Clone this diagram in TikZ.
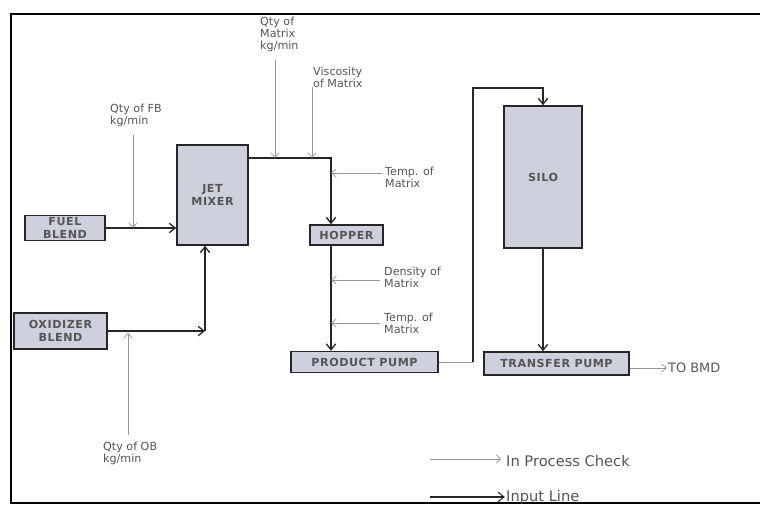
\documentclass[tikz,border=0pt]{standalone}
\usepackage{fontspec}
\setmainfont{DejaVu Sans}
\usetikzlibrary{arrows.meta}
\definecolor{boxfill}{RGB}{206,209,221}
\definecolor{checkgray}{RGB}{150,150,150}
\definecolor{textgray}{RGB}{85,85,85}

\begin{document}
\begin{tikzpicture}[x=0.03cm, y=-0.03cm,
    unitbox/.style={draw=black!85, line width=1.3pt, fill=boxfill, text=textgray,
        font=\fontsize{9.5}{11}\selectfont\bfseries\addfontfeature{LetterSpace=5}, align=center, inner sep=0pt},
    inputline/.style={draw=black!85, line width=1.1pt, -{Straight Barb[length=5pt,width=8pt]}},
    checkline/.style={draw=checkgray, line width=0.6pt, -{Straight Barb[length=4pt,width=7pt]}},
    note/.style={text=textgray, font=\fontsize{9.5}{10}\selectfont, align=left, inner sep=0pt},
    legendtext/.style={text=textgray, font=\fontsize{12.5}{14}\selectfont, inner sep=0pt}]

    % --- Page and Frame ---
    \useasboundingbox (0,0) rectangle (760,505);
    \draw[line width=1.2pt] (760,14) -- (11,14) -- (11,503) -- (760,503);

    % --- Process Units ---
    \node[unitbox, minimum width=2.4cm, minimum height=0.75cm] (fuel) at (65,228) {FUEL\\BLEND};
    \node[unitbox, minimum width=2.79cm, minimum height=1.08cm] (oxid) at (60.5,331) {OXIDIZER\\BLEND};
    \node[unitbox, minimum width=2.13cm, minimum height=3cm] (jet) at (212.5,195) {JET\\MIXER};
    \node[unitbox, minimum width=2.19cm, minimum height=0.6cm] (hopper) at (346.5,235) {HOPPER};
    \node[unitbox, minimum width=4.41cm, minimum height=0.63cm] (ppump) at (364.5,362) {PRODUCT PUMP};
    \node[unitbox, minimum width=2.34cm, minimum height=4.26cm] (silo) at (543,177) {SILO};
    \node[unitbox, minimum width=4.35cm, minimum height=0.69cm] (tpump) at (556.5,363.5) {TRANSFER PUMP};

    % --- Bends of the Input Lines ---
    \coordinate (oxbend) at (205,331);
    \coordinate (mixbend) at (331,158);
    \coordinate (ppbend) at (473,88);

    % --- Input Lines (black) ---
    \draw[inputline] (fuel.east) -- (fuel.east -| jet.west);
    \draw[inputline] (oxid.east) -- (oxbend);
    \draw[inputline] (oxbend) -- (oxbend |- jet.south);
    \draw[inputline] (jet.east |- mixbend) -- (mixbend) -- (mixbend |- hopper.north);
    \draw[inputline] (hopper.south -| mixbend) -- (ppump.north -| mixbend);
    \draw[draw=checkgray, line width=0.6pt] (ppump.east) -- (ppump.east -| ppbend);
    \draw[inputline] (ppump.east -| ppbend) -- (ppbend) -| (silo.north);
    \draw[inputline] (silo.south) -- (tpump.north -| silo.south);

    % --- In Process Checks (grey) ---
    \node[note, anchor=north west] (qtyfb) at (110,104) {Qty of FB\\kg/min};
    \coordinate (qtyfbtop) at (133,135);
    \draw[checkline] (qtyfbtop) -- (qtyfbtop |- fuel.east);

    \node[note, anchor=north west] (qtyob) at (103,442) {Qty of OB\\kg/min};
    \coordinate (qtyobbot) at (128,435);
    \draw[checkline] (qtyobbot) -- ([yshift=-1.5pt]qtyobbot |- oxid.east);

    \node[note, anchor=north west] (qtymx) at (260,17) {Qty of\\Matrix\\kg/min};
    \coordinate (qtymxtop) at (275,60);
    \draw[checkline] (qtymxtop) -- (qtymxtop |- mixbend);

    \node[note, anchor=north west] (visc) at (313,67) {Viscosity\\of Matrix};
    \coordinate (visctop) at (312,87);
    \draw[checkline] (visctop) -- (visctop |- mixbend);

    \node[note, anchor=north west] (tempa) at (385,167) {Temp. of\\Matrix};
    \coordinate (tempaend) at (382,173);
    \draw[checkline] (tempaend) -- (tempaend -| mixbend);

    \node[note, anchor=north west] (dens) at (384,267) {Density of\\Matrix};
    \coordinate (densend) at (380,280);
    \draw[checkline] (densend) -- (densend -| mixbend);

    \node[note, anchor=north west] (tempb) at (384,313) {Temp. of\\Matrix};
    \coordinate (tempbend) at (380,323);
    \draw[checkline] (tempbend) -- (tempbend -| mixbend);

    % --- Outlet to BMD ---
    \node[legendtext, font=\fontsize{11}{13}\selectfont, anchor=west] (bmd) at (668,368) {TO BMD};
    \draw[checkline, shorten >=1pt] (tpump.east |- bmd.west) -- (bmd.west);

    % --- Legend ---
    \node[legendtext, anchor=west] (legcheck) at (506,461) {In Process Check};
    \node[legendtext, anchor=west] (leginput) at (506,497) {Input Line};
    \coordinate (legchecktail) at (430,459);
    \coordinate (leginputtail) at (430,497);
    \draw[checkline, shorten >=4pt] (legchecktail) -- (legchecktail -| legcheck.west);
    \draw[inputline, line width=0.9pt, shorten >=1pt] (leginputtail) -- (leginput.west);

\end{tikzpicture}
\end{document}
